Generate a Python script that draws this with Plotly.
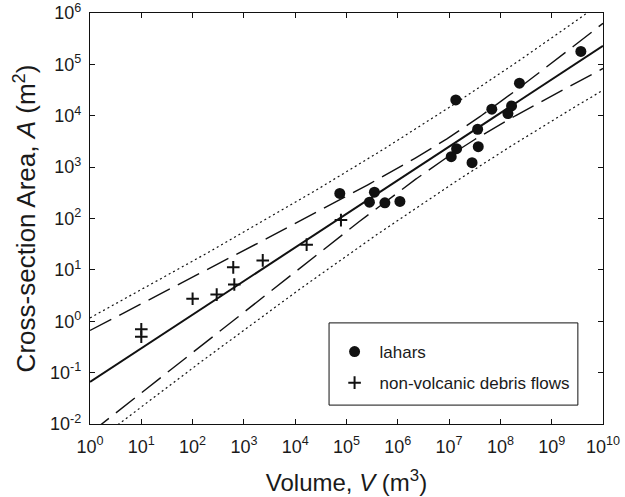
import numpy as np
import plotly.graph_objects as go

# ---- data ----
lahar_V = [7.4e4, 3.5e5, 2.8e5, 5.6e5, 1.1e6, 1.35e7, 2.35e8, 6.8e7, 1.65e8,
           1.4e8, 3.6e7, 3.7e7, 1.4e7, 1.1e7, 2.8e7, 3.7e9]
lahar_A = [308, 326, 208, 202, 215, 2.03e4, 4.3e4, 1.34e4, 1.55e4,
           1.1e4, 5.46e3, 2.5e3, 2.29e3, 1.6e3, 1.22e3, 1.79e5]

debris_V = [10, 10, 100, 295, 620, 650, 2330, 1.67e4, 7.8e4]
debris_A = [0.70, 0.50, 2.75, 3.3, 11.2, 5.2, 15.3, 31, 93]

# fitted log-log regression and its bands (log10 A = a + b log10 V)
fit_intercept = -1.18
fit_slope = 0.654
band_center = 7.1          # log10 V where the confidence band is narrowest
conf_base = 0.032          # squared half-width at the centre
conf_spread = 0.0192       # growth of squared half-width with distance
pred_extra = 0.55          # added squared half-width for prediction band

x_ticks = list(range(0, 11))
y_ticks = list(range(-2, 7))


def sup_label(k):
    return "10<sup>%s</sup>" % (str(k) if k >= 0 else "-%d" % (-k))


lx = np.linspace(0, 10, 401)
center = fit_intercept + fit_slope * lx
h_conf = np.sqrt(conf_base + conf_spread * (lx - band_center) ** 2)
h_pred = np.sqrt(h_conf ** 2 + pred_extra)
Vx = 10 ** lx

fig = go.Figure()

line_black = "#111111"
for y, dash, w in [
    (center + h_pred, "2px,3px", 1.2),
    (center - h_pred, "2px,3px", 1.2),
    (center + h_conf, "24px,9px", 1.4),
    (center - h_conf, "24px,9px", 1.4),
]:
    fig.add_trace(go.Scatter(x=Vx, y=10 ** y, mode="lines",
                             line=dict(color=line_black, width=w, dash=dash),
                             showlegend=False, hoverinfo="skip"))
fig.add_trace(go.Scatter(x=Vx, y=10 ** center, mode="lines",
                         line=dict(color=line_black, width=2),
                         showlegend=False, hoverinfo="skip"))

fig.add_trace(go.Scatter(x=lahar_V, y=lahar_A, mode="markers", name="lahars",
                         legendgroup="a",
                         marker=dict(symbol="circle", size=11, color=line_black,
                                     line=dict(width=0))))
fig.add_trace(go.Scatter(x=debris_V, y=debris_A, mode="markers",
                         name="non-volcanic debris flows", legendgroup="b",
                         marker=dict(symbol="cross-thin", size=9,
                                     line=dict(width=2, color=line_black),
                                     color=line_black)))

font_family = "Liberation Sans, Arial, Helvetica, sans-serif"
axis_common = dict(type="log", showgrid=False, zeroline=False, showline=True,
                   linecolor=line_black, linewidth=1.2, mirror="ticks",
                   ticks="inside", ticklen=5, tickwidth=1, tickcolor=line_black,
                   automargin=False,
                   tickfont=dict(size=18, color="#1a1a1a", family=font_family))

# legend frame (paper coordinates)
fig.add_shape(type="rect", xref="paper", yref="paper",
              x0=0.466, x1=0.951, y0=0.046, y1=0.246,
              line=dict(color=line_black, width=1), fillcolor="white",
              layer="below")

fig.update_layout(
    width=625, height=497,
    margin=dict(l=90, r=22, t=13, b=73),
    paper_bgcolor="white", plot_bgcolor="white",
    font=dict(family=font_family, color="#1a1a1a"),
    xaxis=dict(axis_common, range=[0, 10],
               tickvals=[10 ** k for k in x_ticks],
               ticktext=[sup_label(k) for k in x_ticks],
               ticklabelstandoff=6,
               title=dict(text="Volume, <i>V</i> (m<sup>3</sup>)",
                          font=dict(size=24), standoff=18)),
    yaxis=dict(axis_common, range=[-2, 6],
               tickvals=[10 ** k for k in y_ticks],
               ticktext=[sup_label(k) for k in y_ticks],
               ticklabelstandoff=4,
               title=dict(text="Cross-section Area, <i>A</i> (m<sup>2</sup>)",
                          font=dict(size=26), standoff=6)),
    legend=dict(x=0.467, y=0.219, xanchor="left", yanchor="top",
                borderwidth=0, bgcolor="rgba(0,0,0,0)",
                font=dict(size=17, color="#1a1a1a"),
                traceorder="grouped", tracegroupgap=6, itemwidth=40),
)

fig.write_html("out.html")
